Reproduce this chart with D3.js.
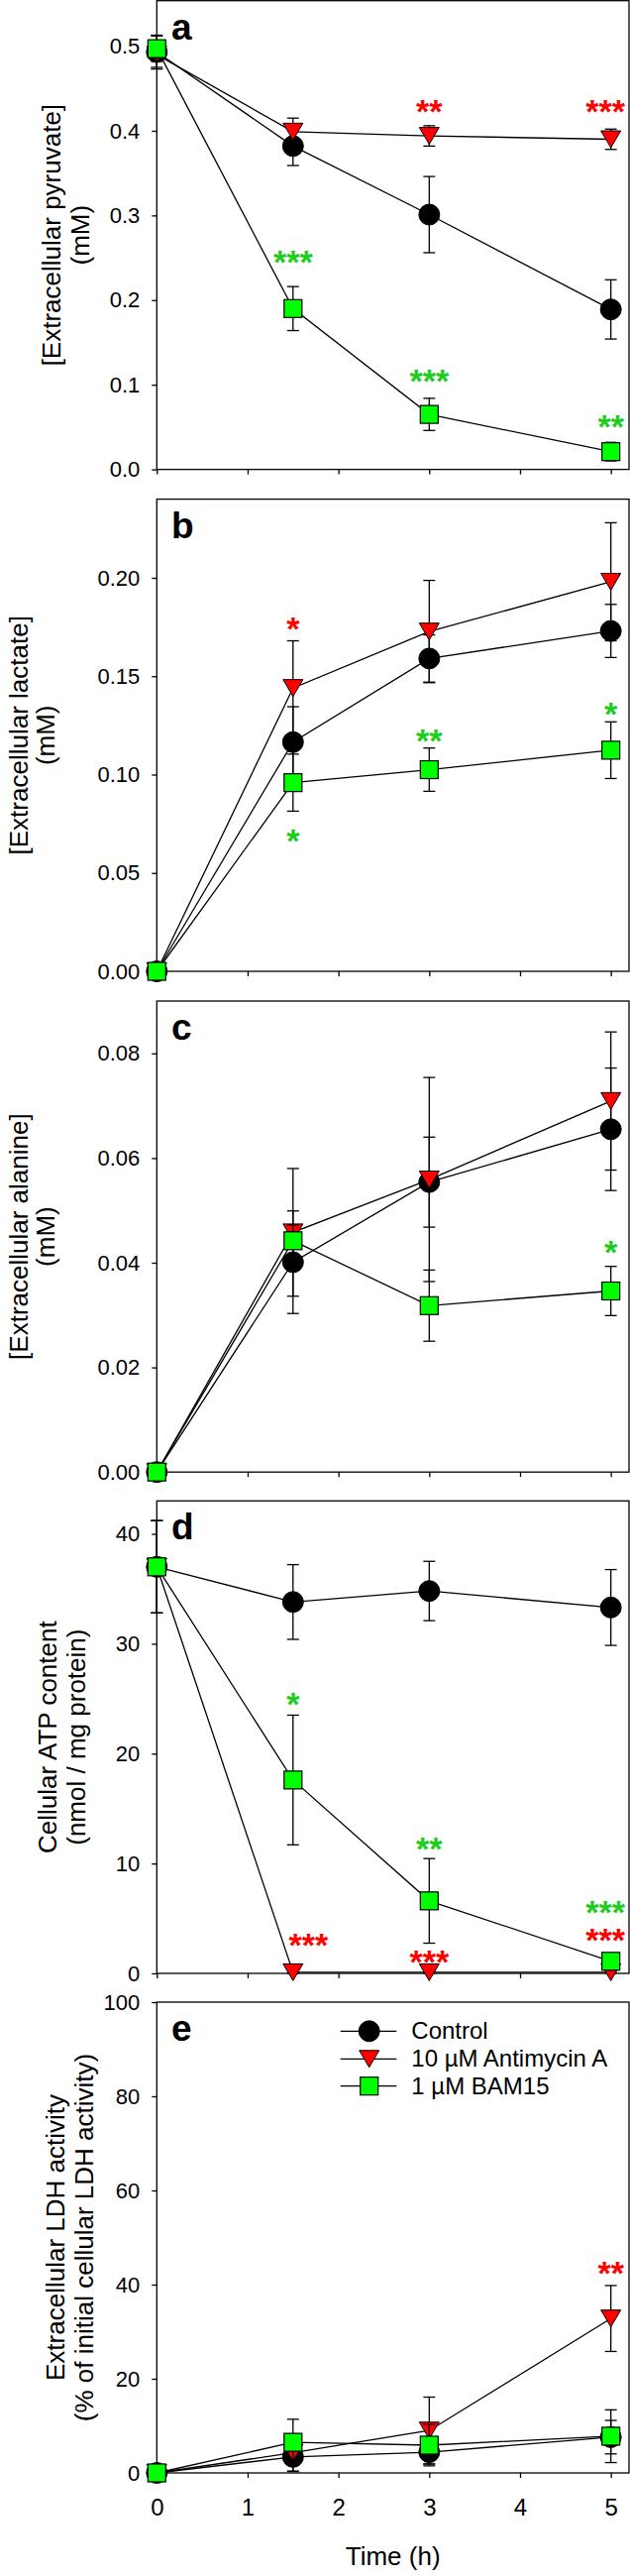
<!DOCTYPE html>
<html>
<head>
<meta charset="utf-8">
<script src="https://cdn.jsdelivr.net/npm/d3@7"></script>
<style>
  body { margin: 0; background: #fff; }
  svg { display: block; }
  text { font-family: "Liberation Sans", Arial, sans-serif; }
</style>
</head>
<body>
<svg id="chart" width="636" height="2599"></svg>
<script>
// ---------------- DATA ----------------
const times = [0, 1.5, 3, 5];
const seriesNames = ["Control", "10 µM Antimycin A", "1 µM BAM15"];
const xTicks = [0, 1, 2, 3, 4, 5];

// Panel a: extracellular pyruvate (mM)
const pyruvateControl      = [0.493, 0.382, 0.301, 0.189];
const pyruvateControlErr   = [0.020, 0.023, 0.045, 0.035];
const pyruvateAntimycin    = [0.490, 0.399, 0.394, 0.390];
const pyruvateAntimycinErr = [0.015, 0.016, 0.012, 0.012];
const pyruvateBAM15        = [0.497, 0.190, 0.065, 0.021];
const pyruvateBAM15Err     = [0.015, 0.026, 0.019, 0.011];
const pyruvateTicks = [0, 0.1, 0.2, 0.3, 0.4, 0.5];
// significance marks: [series index, time, value, label]
const pyruvateStars = [[1, 3, 0.432, "**"], [1, 4.94, 0.432, "***"],
                       [2, 1.5, 0.2535, "***"], [2, 3, 0.1126, "***"], [2, 5, 0.0594, "**"]];

// Panel b: extracellular lactate (mM)
const lactateControl      = [0, 0.1165, 0.159, 0.173];
const lactateControlErr   = [0, 0.018, 0.012, 0.0135];
const lactateAntimycin    = [0, 0.144, 0.1727, 0.198];
const lactateAntimycinErr = [0, 0.024, 0.026, 0.030];
const lactateBAM15        = [0, 0.0959, 0.1025, 0.1124];
const lactateBAM15Err     = [0, 0.0145, 0.011, 0.0144];
const lactateTicks = [0, 0.05, 0.10, 0.15, 0.20];
const lactateStars = [[1, 1.5, 0.178, "*"], [2, 1.5, 0.0701, "*"],
                      [2, 3, 0.121, "**"], [2, 5, 0.1344, "*"]];

// Panel c: extracellular alanine (mM)
const alanineControl      = [0, 0.0401, 0.0554, 0.0655];
const alanineControlErr   = [0, 0.0098, 0.0086, 0.0117];
const alanineAntimycin    = [0, 0.0458, 0.0559, 0.0709];
const alanineAntimycinErr = [0, 0.0122, 0.0195, 0.0132];
const alanineBAM15        = [0, 0.0442, 0.0318, 0.0346];
const alanineBAM15Err     = [0, 0.003, 0.0068, 0.0047];
const alanineTicks = [0, 0.02, 0.04, 0.06, 0.08];
const alanineStars = [[2, 5, 0.0435, "*"]];

// Panel d: cellular ATP content (nmol / mg protein)
const atpControl      = [37.0, 33.8, 34.8, 33.3];
const atpControlErr   = [4.2, 3.4, 2.7, 3.45];
const atpAntimycin    = [37.0, 0.1, 0.1, 0.1];
const atpAntimycinErr = [4.2, 0.1, 0.1, 0.1];
const atpBAM15        = [37.0, 17.6, 6.6, 1.1];
const atpBAM15Err     = [4.2, 5.9, 3.85, 0.6];
const atpTicks = [0, 10, 20, 30, 40];
const atpStars = [[2, 1.5, 25.2, "*"], [2, 3, 12.0, "**"], [2, 4.94, 6.23, "***"],
                  [1, 1.67, 3.27, "***"], [1, 3, 1.71, "***"], [1, 4.94, 3.68, "***"]];

// Panel e: extracellular LDH activity (% of initial cellular LDH activity)
const ldhControl      = [0, 3.4, 4.4, 7.6];
const ldhControlErr   = [0, 3.0, 2.5, 3.55];
const ldhAntimycin    = [0, 4.3, 9.0, 32.8];
const ldhAntimycinErr = [0, 4.0, 7.1, 7.0];
const ldhBAM15        = [0, 6.5, 5.9, 7.8];
const ldhBAM15Err     = [0, 4.9, 4.4, 5.6];
const ldhTicks = [0, 20, 40, 60, 80, 100];
const ldhStars = [[1, 5, 43.9, "**"]];

// ---------------- STYLE / LAYOUT ----------------
const markerFill = ["#000000", "#FF0000", "#00FF00"];
const starColor = ["#000000", "#FF0000", "#1DCC1D"];
const FONT = '"Liberation Sans", Arial, sans-serif';

const panels = [
  { letter: "a", top: 0.7, bottom: 473.6, yMax: 0.5537, ticks: pyruvateTicks, fmt: d3.format(".1f"),
    series: [[pyruvateControl, pyruvateControlErr], [pyruvateAntimycin, pyruvateAntimycinErr], [pyruvateBAM15, pyruvateBAM15Err]],
    stars: pyruvateStars, title: ["[Extracellular pyruvate]", "(mM)"], titleX: [61, 89.8] },
  { letter: "b", top: 503.6, bottom: 980, yMax: 0.24, ticks: lactateTicks, fmt: d3.format(".2f"),
    series: [[lactateControl, lactateControlErr], [lactateAntimycin, lactateAntimycinErr], [lactateBAM15, lactateBAM15Err]],
    stars: lactateStars, title: ["[Extracellular lactate]", "(mM)"], titleX: [28.4, 55.4] },
  { letter: "c", top: 1010, bottom: 1485.2, yMax: 0.09, ticks: alanineTicks, fmt: d3.format(".2f"),
    series: [[alanineControl, alanineControlErr], [alanineAntimycin, alanineAntimycinErr], [alanineBAM15, alanineBAM15Err]],
    stars: alanineStars, title: ["[Extracellular alanine]", "(mM)"], titleX: [28.4, 55.4] },
  { letter: "d", top: 1514.3, bottom: 1991, yMax: 43.0, ticks: atpTicks, fmt: d3.format("d"),
    series: [[atpControl, atpControlErr], [atpAntimycin, atpAntimycinErr], [atpBAM15, atpBAM15Err]],
    stars: atpStars, title: ["Cellular ATP content", "(nmol / mg protein)"], titleX: [56.8, 85.8] },
  { letter: "e", top: 2020, bottom: 2495, yMax: 100, ticks: ldhTicks, fmt: d3.format("d"),
    series: [[ldhControl, ldhControlErr], [ldhAntimycin, ldhAntimycinErr], [ldhBAM15, ldhBAM15Err]],
    stars: ldhStars, title: ["Extracellular LDH activity", "(% of initial cellular LDH activity)"], titleX: [65, 93.8],
    xLabels: true, legend: true }
];

const svg = d3.select("#chart");
const x = d3.scaleLinear().domain([0, 5.2]).range([158.3, 635]);

function drawMarker(g, type, cx, cy) {
  if (type === 0) {
    g.append("circle").attr("cx", cx).attr("cy", cy).attr("r", 10.5)
      .attr("fill", markerFill[0]).attr("stroke", "#000").attr("stroke-width", 1);
  } else if (type === 1) {
    const w = 10, h = 8.5;
    g.append("path").attr("d", `M${cx - w},${cy - h}L${cx + w},${cy - h}L${cx},${cy + h}Z`)
      .attr("fill", markerFill[1]).attr("stroke", "#000").attr("stroke-width", 1);
  } else {
    g.append("rect").attr("x", cx - 9).attr("y", cy - 9).attr("width", 18).attr("height", 18)
      .attr("fill", markerFill[2]).attr("stroke", "#000").attr("stroke-width", 1.2);
  }
}

panels.forEach(p => {
  const y = d3.scaleLinear().domain([0, p.yMax]).range([p.bottom, p.top]);
  const g = svg.append("g");

  // y axis
  const yAxis = d3.axisLeft(y).tickValues(p.ticks).tickFormat(p.fmt).tickSize(5).tickSizeOuter(0).tickPadding(12);
  const ya = g.append("g").attr("transform", `translate(${x(0)},0)`).call(yAxis);
  ya.select(".domain").remove();
  ya.selectAll("line").attr("stroke", "#000").attr("stroke-width", 1.3);
  ya.selectAll("text").style("font-family", FONT).style("font-size", "22px").style("fill", "#000");

  // x axis
  const xAxis = d3.axisBottom(x).tickValues(xTicks).tickFormat(p.xLabels ? d3.format("d") : () => "")
    .tickSize(5).tickSizeOuter(0).tickPadding(21);
  const xa = g.append("g").attr("transform", `translate(0,${p.bottom})`).call(xAxis);
  xa.select(".domain").remove();
  xa.selectAll("line").attr("stroke", "#000").attr("stroke-width", 1.3);
  xa.selectAll("text").style("font-family", FONT).style("font-size", "24px").style("fill", "#000");

  // frame
  g.append("rect").attr("x", x(0)).attr("y", p.top).attr("width", x.range()[1] - x(0))
    .attr("height", p.bottom - p.top).attr("fill", "none").attr("stroke", "#000").attr("stroke-width", 1.3);

  // y titles
  const cy = (p.top + p.bottom) / 2;
  p.title.forEach((t, i) => {
    g.append("text").attr("transform", `translate(${p.titleX[i]},${cy}) rotate(-90)`)
      .attr("text-anchor", "middle").style("font-size", "26px").style("fill", "#000").text(t);
  });

  // panel letter
  g.append("text").attr("x", 173).attr("y", p.top + 39).style("font-size", "37px")
    .style("font-weight", "bold").style("fill", "#000").text(p.letter);

  // series
  const line = d3.line().x((d, i) => x(times[i])).y(d => y(d));
  p.series.forEach(([vals, errs], si) => {
    const sg = g.append("g");
    sg.append("path").attr("d", line(vals)).attr("fill", "none").attr("stroke", "#000").attr("stroke-width", 1.3);
    vals.forEach((v, i) => {
      const e = errs[i];
      if (e > 0) {
        const cx = x(times[i]);
        sg.append("line").attr("x1", cx).attr("x2", cx).attr("y1", y(v - e)).attr("y2", y(v + e))
          .attr("stroke", "#000").attr("stroke-width", 1.3);
        [v - e, v + e].forEach(ev => {
          sg.append("line").attr("x1", cx - 6).attr("x2", cx + 6).attr("y1", y(ev)).attr("y2", y(ev))
            .attr("stroke", "#000").attr("stroke-width", 1.3);
        });
      }
    });
    vals.forEach((v, i) => drawMarker(sg, si, x(times[i]), y(v)));
  });

  // significance stars
  p.stars.forEach(([si, t, v, lab]) => {
    g.append("text").attr("x", x(t)).attr("y", y(v) + 19).attr("text-anchor", "middle")
      .style("font-size", "34px").style("font-weight", "bold").style("fill", starColor[si]).text(lab);
  });

  if (p.xLabels) {
    g.append("text").attr("x", (x(0) + x.range()[1]) / 2).attr("y", 2588.3).attr("text-anchor", "middle")
      .style("font-size", "26px").style("fill", "#000").text("Time (h)");
  }

  if (p.legend) {
    const rowY = [2049.3, 2077.3, 2104.7];
    seriesNames.forEach((name, si) => {
      const lg = g.append("g");
      lg.append("line").attr("x1", 343.7).attr("x2", 400.3).attr("y1", rowY[si]).attr("y2", rowY[si])
        .attr("stroke", "#000").attr("stroke-width", 1.3);
      drawMarker(lg, si, 372.7, rowY[si]);
      lg.append("text").attr("x", 415.3).attr("y", rowY[si] + 8).style("font-size", "24px")
        .style("fill", "#000").text(name);
    });
  }
});
</script>
</body>
</html>
